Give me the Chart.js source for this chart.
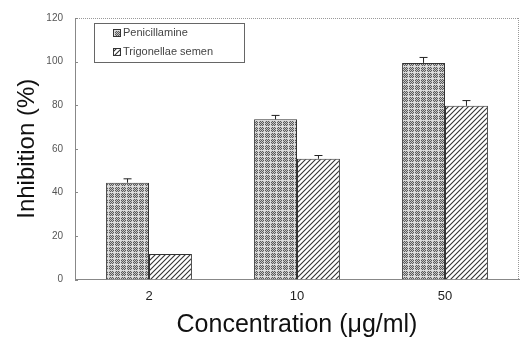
<!DOCTYPE html>
<html><head><meta charset="utf-8">
<script src="https://cdn.jsdelivr.net/npm/chart.js@4"></script>
<style>html,body{margin:0;padding:0;background:#fff}#wrap{width:522px;height:340px}</style>
</head><body><div id="wrap"><canvas id="c" width="522" height="340"></canvas></div>
<script>
const categories = ['2', '10', '50'];
const penicillamine = [44.4, 73.5, 99.4];
const penicillamineErr = [1.8, 1.8, 2.5];
const trigonellae = [11.7, 55.4, 79.7];
const trigonellaeErr = [0, 1.5, 2.4];
const seriesNames = ['Penicillamine', 'Trigonellae semen'];
const yTicks = [0, 20, 40, 60, 80, 100, 120];

function checkPattern() {
  const c = document.createElement('canvas'); c.width = 6; c.height = 6;
  const x = c.getContext('2d');
  for (let i = 0; i < 6; i++) for (let j = 0; j < 6; j++) {
    x.fillStyle = ((i + j) % 2) ? '#5a5a5a' : '#c4c4c4';
    x.fillRect(i, j, 1, 1);
  }
  x.fillStyle = '#dcdcdc';
  x.fillRect(0, 0, 6, 1); x.fillRect(0, 0, 1, 6);
  return x.createPattern(c, 'repeat');
}
function hatchPattern() {
  const c = document.createElement('canvas'); c.width = 5; c.height = 5;
  const x = c.getContext('2d');
  x.fillStyle = '#fff'; x.fillRect(0, 0, 5, 5);
  x.strokeStyle = '#333'; x.lineWidth = 1.1;
  x.beginPath();
  x.moveTo(-1, 6); x.lineTo(6, -1);
  x.moveTo(-1, 1); x.lineTo(1, -1);
  x.moveTo(4, 6); x.lineTo(6, 4);
  x.stroke();
  return x.createPattern(c, 'repeat');
}
const pat1 = checkPattern(), pat2 = hatchPattern();

const extras = {
  id: 'extras',
  afterDatasetsDraw(chart) {
    const ctx = chart.ctx, ys = chart.scales.y, a = chart.chartArea;
    const errs = [penicillamineErr, trigonellaeErr];
    chart.data.datasets.forEach((ds, di) => {
      const meta = chart.getDatasetMeta(di);
      meta.data.forEach((bar, i) => {
        const e = errs[di][i]; if (!e) return;
        const yTop = ys.getPixelForValue(ds.data[i] + e);
        ctx.save(); ctx.strokeStyle = '#222'; ctx.lineWidth = 1;
        ctx.beginPath();
        ctx.moveTo(bar.x, bar.y); ctx.lineTo(bar.x, yTop);
        ctx.moveTo(bar.x - 4, yTop); ctx.lineTo(bar.x + 4, yTop);
        ctx.stroke(); ctx.restore();
      });
    });
    ctx.save(); ctx.strokeStyle = '#999'; ctx.lineWidth = 1; ctx.setLineDash([1, 1]);
    ctx.beginPath();
    ctx.moveTo(a.left, a.top + 0.5); ctx.lineTo(a.right, a.top + 0.5);
    ctx.moveTo(a.right - 0.5, a.top); ctx.lineTo(a.right - 0.5, a.bottom);
    ctx.stroke(); ctx.restore();
    ctx.save(); ctx.strokeStyle = '#888'; ctx.lineWidth = 1;
    yTicks.forEach(v => { const y = Math.round(ys.getPixelForValue(v)) + 0.5;
      ctx.beginPath(); ctx.moveTo(a.left, y); ctx.lineTo(a.left + 3, y); ctx.stroke(); });
    ctx.restore();
    const lx = 94, ly = 23, lw = 150, lh = 39;
    ctx.save();
    ctx.fillStyle = '#fff'; ctx.fillRect(lx, ly, lw, lh);
    ctx.strokeStyle = '#666'; ctx.lineWidth = 1;
    ctx.strokeRect(lx + 0.5, ly + 0.5, lw, lh);
    ctx.font = '11px "Liberation Sans", Arial, sans-serif';
    ctx.textBaseline = 'middle';
    [pat1, pat2].forEach((p, i) => {
      const yy = ly + 10 + i * 19;
      ctx.fillStyle = p; ctx.fillRect(lx + 19, yy - 4, 8, 8);
      ctx.strokeStyle = '#333'; ctx.strokeRect(lx + 19.5, yy - 3.5, 7, 7);
      ctx.fillStyle = '#444'; ctx.fillText(seriesNames[i], lx + 29, yy);
    });
    ctx.restore();
  }
};

new Chart(document.getElementById('c'), {
  type: 'bar',
  data: {
    labels: categories,
    datasets: [
      { label: seriesNames[0], data: penicillamine, backgroundColor: pat1, borderColor: '#333', borderWidth: 1, borderSkipped: 'bottom' },
      { label: seriesNames[1], data: trigonellae, backgroundColor: pat2, borderColor: '#333', borderWidth: 1, borderSkipped: 'bottom' }
    ]
  },
  options: {
    responsive: false, animation: false,
    layout: { padding: { top: 11, right: 3, left: 0, bottom: 0 } },
    datasets: { bar: { categoryPercentage: 0.58, barPercentage: 1 } },
    plugins: { legend: { display: false }, tooltip: { enabled: false } },
    scales: {
      x: {
        grid: { display: false, drawTicks: false },
        border: { display: true, color: '#888', width: 1 },
        ticks: { color: '#222', font: { size: 13, family: '"Liberation Sans", Arial, sans-serif' }, padding: 9 },
        title: { display: true, text: 'Concentration (\u03bcg/ml)', color: '#111', font: { size: 25, family: '"Liberation Sans", Arial, sans-serif' }, padding: { top: 2, bottom: 0 } },
        afterFit(s) { s.height = 60.5; }
      },
      y: {
        min: 0, max: 120,
        afterBuildTicks(s) { s.ticks = yTicks.map(v => ({ value: v })); },
        grid: { display: false, drawTicks: false },
        border: { display: true, color: '#888', width: 1 },
        ticks: { color: '#555', font: { size: 10, family: '"Liberation Sans", Arial, sans-serif' }, padding: 12 },
        title: { display: true, text: 'Inhibition (%)', color: '#111', font: { size: 24, family: '"Liberation Sans", Arial, sans-serif' }, padding: { top: 13, bottom: 0 } },
        afterFit(s) { s.width = 75; }
      }
    }
  },
  plugins: [extras]
});
</script></body></html>
